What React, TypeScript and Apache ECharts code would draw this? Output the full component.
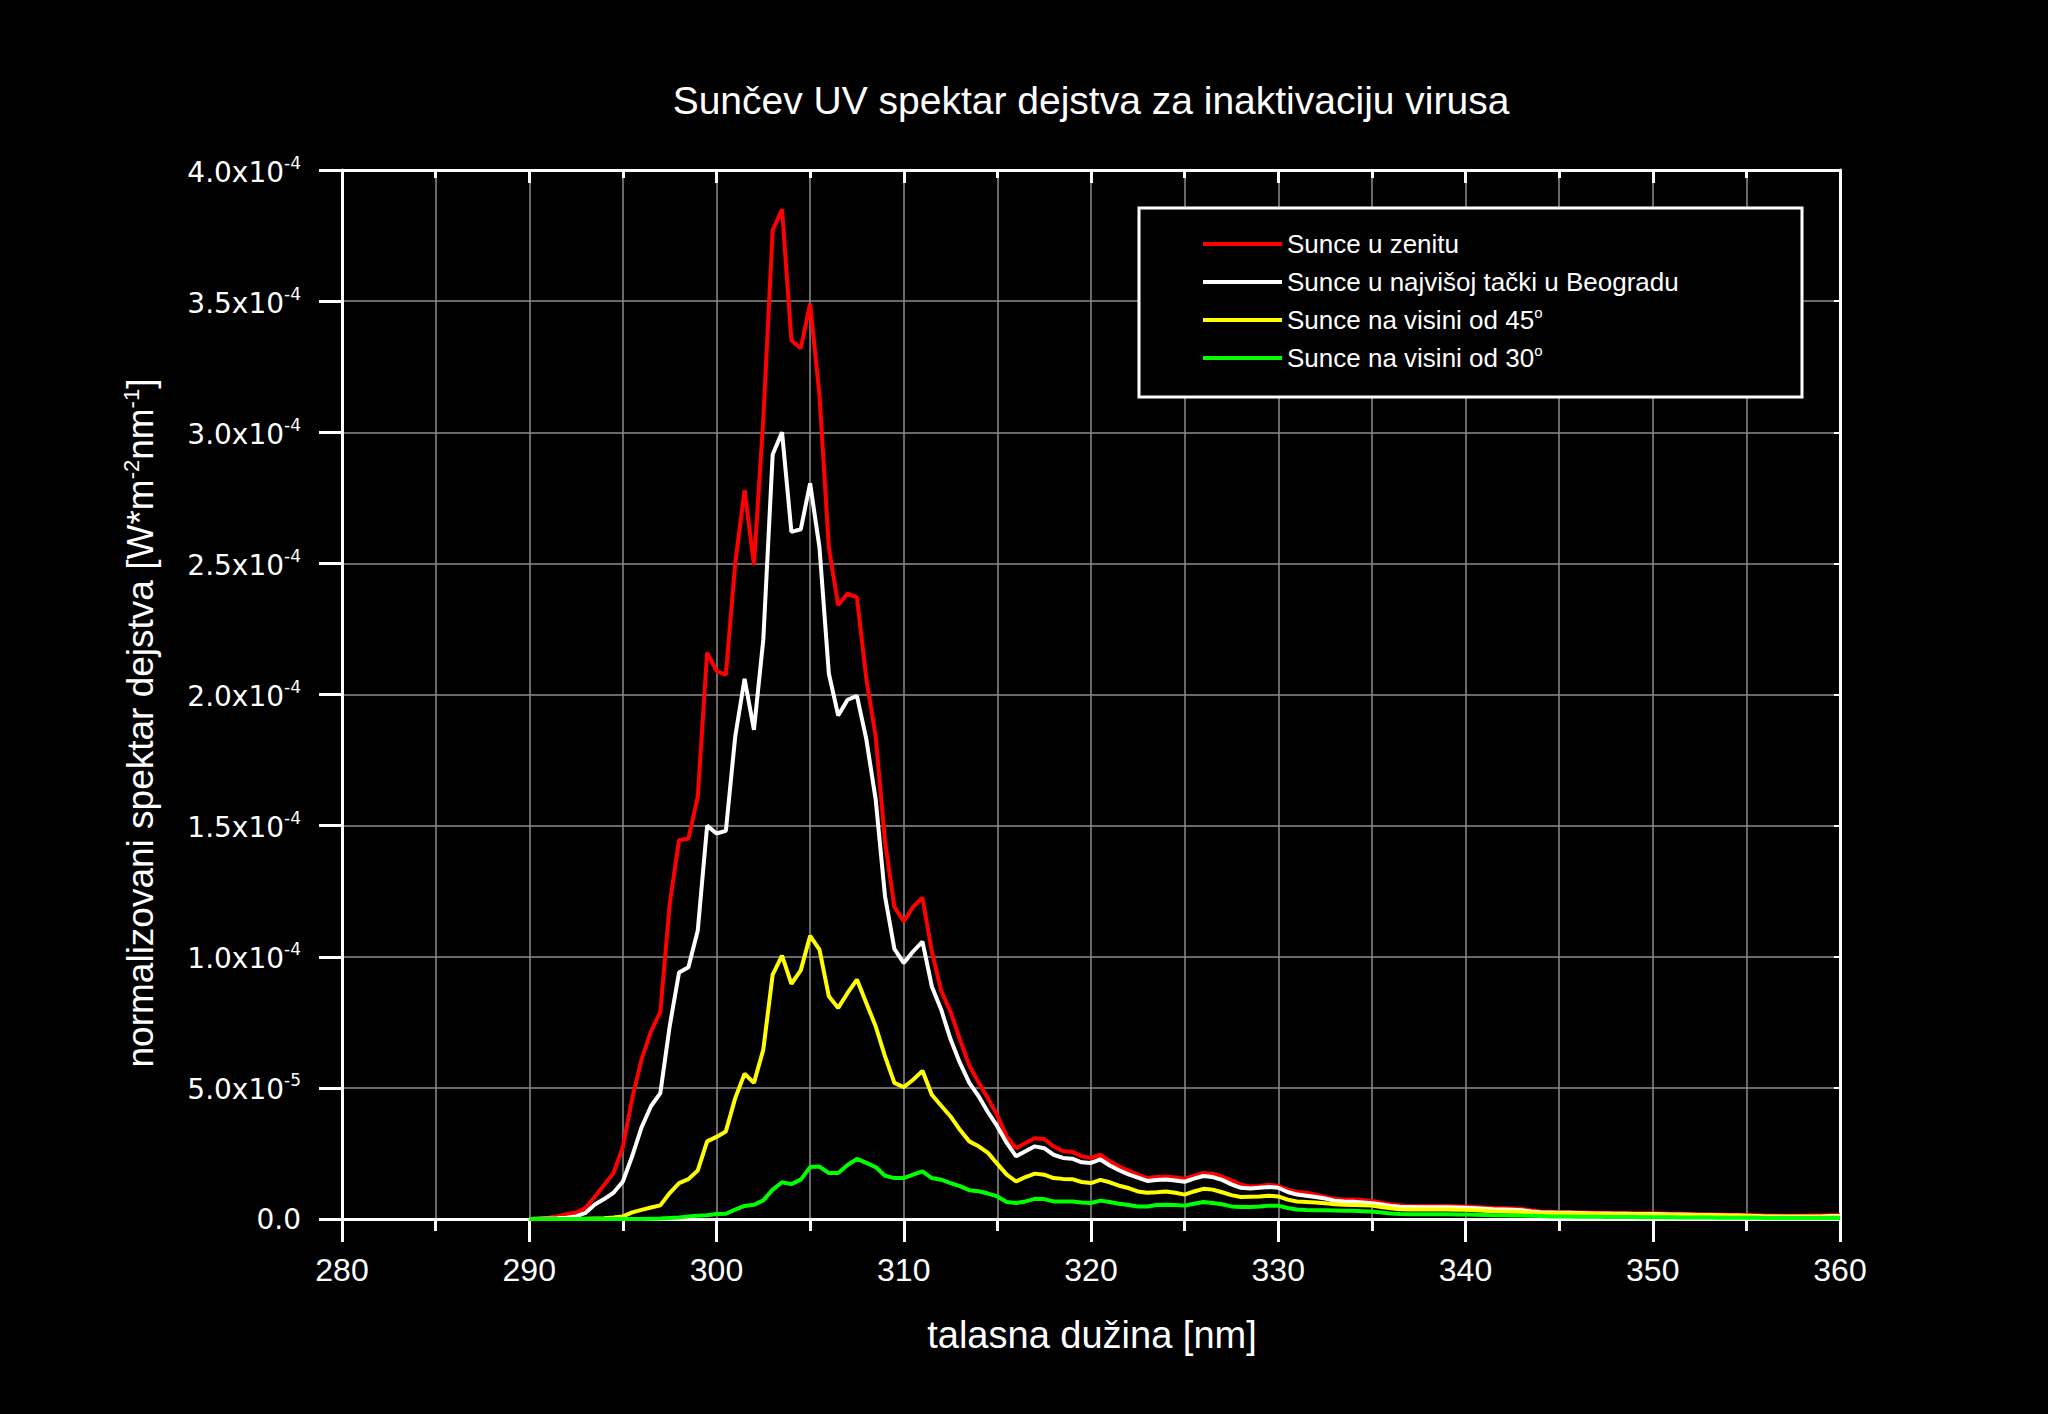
import React, { useEffect, useRef } from "react";
import * as echarts from "echarts";

const FONT = '"Liberation Sans", Arial, Helvetica, sans-serif';

// wavelength grid: first sample and step (nm)
const START_NM = 290;
const STEP_NM = 0.5;

// values in units of 1e-5 W m^-2 nm^-1, one row = 5 nm (290 ... 360)
const sunceZenit = [
  0, 0.02, 0.05, 0.1, 0.18, 0.25, 0.42, 0.85, 1.3, 1.75,
  2.75, 4.6, 6.1, 7.15, 7.9, 12.0, 14.45, 14.5, 16.1, 21.6,
  20.9, 20.75, 25.0, 27.8, 24.95, 30.5, 37.7, 38.5, 33.5, 33.2,
  34.9, 31.4, 25.6, 23.4, 23.85, 23.7, 20.6, 18.4, 14.4, 11.9,
  11.35, 11.9, 12.25, 10.2, 8.7, 7.9, 6.85, 5.85, 5.2, 4.6,
  3.95, 3.15, 2.7, 2.9, 3.08, 3.05, 2.77, 2.58, 2.56, 2.39,
  2.33, 2.45, 2.2, 2.0, 1.85, 1.69, 1.56, 1.6, 1.62, 1.58,
  1.54, 1.65, 1.75, 1.73, 1.62, 1.47, 1.31, 1.24, 1.26, 1.31,
  1.26, 1.12, 1.03, 1.0, 0.93, 0.84, 0.77, 0.74, 0.74, 0.72,
  0.69, 0.62, 0.56, 0.52, 0.5, 0.5, 0.5, 0.5, 0.5, 0.49,
  0.48, 0.46, 0.44, 0.42, 0.41, 0.4, 0.38, 0.33, 0.29, 0.28,
  0.27, 0.27, 0.26, 0.25, 0.24, 0.24, 0.23, 0.23, 0.22, 0.22,
  0.22, 0.21, 0.2, 0.2, 0.19, 0.18, 0.18, 0.17, 0.16, 0.16,
  0.15, 0.14, 0.13, 0.12, 0.12, 0.12, 0.12, 0.13, 0.13, 0.14,
  0.15,
];

const sunceBeograd = [
  0, 0.01, 0.02, 0.03, 0.05, 0.1, 0.23, 0.55, 0.76, 1.0,
  1.43, 2.4, 3.5, 4.3, 4.8, 7.35, 9.4, 9.6, 11.0, 15.0,
  14.7, 14.8, 18.4, 20.6, 18.65, 22.1, 29.15, 30.0, 26.2, 26.3,
  28.05, 25.6, 20.8, 19.2, 19.8, 19.95, 18.3, 16.0, 12.3, 10.3,
  9.76, 10.2, 10.58, 8.87, 7.98, 6.85, 5.95, 5.19, 4.68, 4.07,
  3.53, 2.9, 2.39, 2.58, 2.77, 2.7, 2.45, 2.33, 2.3, 2.16,
  2.14, 2.27, 2.04, 1.86, 1.7, 1.58, 1.45, 1.49, 1.51, 1.47,
  1.42, 1.54, 1.64, 1.6, 1.49, 1.32, 1.19, 1.16, 1.19, 1.22,
  1.19, 1.03, 0.93, 0.89, 0.84, 0.78, 0.7, 0.67, 0.66, 0.63,
  0.6, 0.55, 0.5, 0.47, 0.46, 0.45, 0.45, 0.45, 0.45, 0.44,
  0.43, 0.41, 0.39, 0.37, 0.36, 0.35, 0.33, 0.29, 0.26, 0.25,
  0.24, 0.24, 0.23, 0.22, 0.21, 0.21, 0.2, 0.2, 0.19, 0.19,
  0.19, 0.18, 0.17, 0.17, 0.16, 0.15, 0.15, 0.14, 0.13, 0.13,
  0.12, 0.11, 0.1, 0.1, 0.1, 0.1, 0.1, 0.1, 0.1, 0.11,
  0.11,
];

const sunce45 = [
  0, 0, 0, 0, 0, 0, 0.01, 0.02, 0.03, 0.06,
  0.1, 0.25, 0.35, 0.44, 0.52, 0.99, 1.37, 1.52, 1.85, 2.96,
  3.13, 3.34, 4.61, 5.54, 5.19, 6.46, 9.32, 10.04, 8.97, 9.48,
  10.8, 10.27, 8.49, 8.05, 8.62, 9.13, 8.24, 7.35, 6.2, 5.19,
  5.03, 5.31, 5.65, 4.74, 4.32, 3.91, 3.4, 2.96, 2.77, 2.52,
  2.1, 1.69, 1.43, 1.6, 1.73, 1.69, 1.56, 1.53, 1.52, 1.41,
  1.37, 1.49, 1.4, 1.27, 1.18, 1.05, 1.0, 1.02, 1.05, 1.0,
  0.93, 1.05, 1.15, 1.12, 1.02, 0.91, 0.84, 0.85, 0.86, 0.89,
  0.86, 0.74, 0.67, 0.65, 0.63, 0.6, 0.56, 0.54, 0.53, 0.52,
  0.51, 0.46, 0.41, 0.37, 0.36, 0.36, 0.36, 0.36, 0.36, 0.35,
  0.35, 0.33, 0.31, 0.3, 0.29, 0.28, 0.27, 0.24, 0.22, 0.21,
  0.21, 0.2, 0.2, 0.19, 0.19, 0.18, 0.18, 0.17, 0.17, 0.17,
  0.16, 0.16, 0.15, 0.15, 0.14, 0.14, 0.13, 0.13, 0.12, 0.12,
  0.11, 0.1, 0.09, 0.09, 0.08, 0.08, 0.08, 0.08, 0.08, 0.08,
  0.08,
];

const sunce30 = [
  0, 0, 0, 0, 0, 0, 0, 0, 0, 0,
  0, 0, 0, 0.01, 0.02, 0.04, 0.06, 0.1, 0.12, 0.14,
  0.19, 0.2, 0.36, 0.5, 0.54, 0.71, 1.12, 1.4, 1.33, 1.5,
  1.98, 2.0, 1.75, 1.75, 2.06, 2.29, 2.14, 1.98, 1.65, 1.56,
  1.56, 1.69, 1.82, 1.56, 1.5, 1.37, 1.25, 1.1, 1.06, 0.97,
  0.86, 0.65, 0.61, 0.67, 0.77, 0.76, 0.67, 0.67, 0.67, 0.63,
  0.61, 0.7, 0.65, 0.58, 0.53, 0.48, 0.48, 0.53, 0.54, 0.53,
  0.51, 0.58, 0.65, 0.61, 0.56, 0.48, 0.46, 0.46, 0.48, 0.51,
  0.51, 0.42, 0.36, 0.34, 0.33, 0.33, 0.32, 0.31, 0.31, 0.3,
  0.29, 0.25, 0.21, 0.19, 0.18, 0.18, 0.18, 0.18, 0.18, 0.17,
  0.17, 0.16, 0.15, 0.14, 0.14, 0.13, 0.13, 0.12, 0.11, 0.1,
  0.1, 0.1, 0.09, 0.09, 0.09, 0.08, 0.08, 0.08, 0.08, 0.07,
  0.07, 0.07, 0.07, 0.06, 0.06, 0.06, 0.06, 0.05, 0.05, 0.05,
  0.05, 0.05, 0.04, 0.04, 0.04, 0.04, 0.04, 0.04, 0.04, 0.04,
  0.04,
];

const seriesNames = [
  "Sunce u zenitu",
  "Sunce u najvišoj tački u Beogradu",
  "Sunce na visini od 45°",
  "Sunce na visini od 30°",
];
const seriesData = [sunceZenit, sunceBeograd, sunce45, sunce30];
const seriesColors = ["#ff0000", "#ffffff", "#ffff00", "#00ff00"];

const X_MIN = 280;
const X_MAX = 360;
const X_STEP = 10;
const Y_MIN = 0;
const Y_MAX = 40;
const Y_STEP = 5;

const titleText = "Sunčev UV spektar dejstva za inaktivaciju virusa";
const xTitleText = "talasna dužina [nm]";
const yTitleRich = "normalizovani spektar dejstva [W*m{s|-2}nm{s|-1}]";

const toPairs = (arr: number[]) => arr.map((v, i) => [START_NM + i * STEP_NM, v]);

const yLabel = (v: number) => {
  if (v === 0) return "{b|0.0}";
  if (v >= 10) return `{b|${(v / 10).toFixed(1)}x10}{s|-4}`;
  return `{b|${v.toFixed(1)}x10}{s|-5}`;
};

const GRID_COLOR = "#8c8c8c";

export default function App() {
  const ref = useRef<HTMLDivElement>(null);
  useEffect(() => {
    const chart = echarts.init(ref.current!, undefined, { renderer: "svg" });
    const option: any = {
      animation: false,
      backgroundColor: "#000000",
      grid: { left: 342, right: 208, top: 170, bottom: 195, containLabel: false },
      xAxis: [
        {
          type: "value",
          position: "bottom",
          min: X_MIN,
          max: X_MAX,
          interval: X_STEP,
          axisLine: { show: true, onZero: false, lineStyle: { color: "#ffffff", width: 3 } },
          axisTick: { show: true, inside: false, length: 23, lineStyle: { color: "#ffffff", width: 3 } },
          minorTick: { show: true, splitNumber: 2, length: 12, lineStyle: { color: "#ffffff", width: 3 } },
          splitLine: { show: true, lineStyle: { color: GRID_COLOR, width: 1.5 } },
          minorSplitLine: { show: true, lineStyle: { color: GRID_COLOR, width: 1.5 } },
          axisLabel: { color: "#ffffff", fontFamily: FONT, fontSize: 32, margin: 35 },
        },
        {
          type: "value",
          position: "top",
          min: X_MIN,
          max: X_MAX,
          interval: X_STEP,
          axisLine: { show: true, onZero: false, lineStyle: { color: "#ffffff", width: 3 } },
          axisTick: { show: true, inside: true, length: 13, lineStyle: { color: "#ffffff", width: 3 } },
          minorTick: { show: true, splitNumber: 2, length: 8, lineStyle: { color: "#ffffff", width: 3 } },
          splitLine: { show: false },
          axisLabel: { show: false },
        },
      ],
      yAxis: [
        {
          type: "value",
          position: "left",
          min: Y_MIN,
          max: Y_MAX,
          interval: Y_STEP,
          axisLine: { show: true, onZero: false, lineStyle: { color: "#ffffff", width: 3 } },
          axisTick: { show: true, inside: false, length: 23, lineStyle: { color: "#ffffff", width: 3 } },
          splitLine: { show: true, lineStyle: { color: GRID_COLOR, width: 1.5 } },
          axisLabel: {
            margin: 41,
            formatter: yLabel,
            rich: {
              b: { color: "#ffffff", fontFamily: '"DejaVu Sans", sans-serif', fontSize: 28, verticalAlign: "bottom" },
              s: { color: "#ffffff", fontFamily: '"DejaVu Sans", sans-serif', fontSize: 17, verticalAlign: "bottom", padding: [0, 0, 15, 0] },
            },
          },
        },
        {
          type: "value",
          position: "right",
          min: Y_MIN,
          max: Y_MAX,
          interval: Y_STEP,
          axisLine: { show: true, onZero: false, lineStyle: { color: "#ffffff", width: 3 } },
          axisTick: { show: true, inside: true, length: 6, lineStyle: { color: "#ffffff", width: 2 } },
          splitLine: { show: false },
          axisLabel: { show: false },
        },
      ],
      legend: {
        show: true,
        data: seriesNames,
        orient: "vertical",
        left: 1203,
        top: 229,
        padding: 0,
        itemGap: 8,
        itemWidth: 79,
        itemHeight: 4,
        icon: "rect",
        selectedMode: false,
        z: 10,
        formatter: (name: string) => name.replace("°", "{s|o}"),
        textStyle: {
          color: "#ffffff",
          fontFamily: FONT,
          fontSize: 26,
          lineHeight: 30,
          rich: {
            s: { color: "#ffffff", fontFamily: FONT, fontSize: 15, verticalAlign: "bottom", padding: [0, 0, 15, 0] },
          },
        },
      },
      graphic: [
        {
          type: "rect",
          z: 5,
          shape: { x: 1139, y: 208, width: 663, height: 189 },
          style: { fill: "#000000", stroke: "#ffffff", lineWidth: 3 },
        },
        {
          type: "text",
          x: 1091,
          y: 100,
          style: {
            text: titleText,
            fill: "#ffffff",
            fontFamily: FONT,
            fontSize: 39,
            align: "center",
            verticalAlign: "middle",
          },
        },
        {
          type: "text",
          x: 1092,
          y: 1335,
          style: {
            text: xTitleText,
            fill: "#ffffff",
            fontFamily: FONT,
            fontSize: 38,
            align: "center",
            verticalAlign: "middle",
          },
        },
        {
          type: "text",
          x: 140,
          y: 723,
          rotation: Math.PI / 2,
          style: {
            text: yTitleRich,
            fill: "#ffffff",
            fontFamily: FONT,
            fontSize: 37,
            align: "center",
            verticalAlign: "middle",
            rich: {
              s: { fill: "#ffffff", fontFamily: FONT, fontSize: 22, verticalAlign: "bottom", padding: [0, 0, 17, 0] },
            },
          },
        },
      ],
      series: seriesData.map((d, i) => ({
        name: seriesNames[i],
        type: "line",
        xAxisIndex: 0,
        yAxisIndex: 0,
        data: toPairs(d),
        showSymbol: false,
        symbol: "none",
        smooth: false,
        z: 2 + i,
        itemStyle: { color: seriesColors[i] },
        lineStyle: { color: seriesColors[i], width: 4 },
      })),
    };
    chart.setOption(option);
    return () => chart.dispose();
  }, []);
  return (
    <div
      ref={ref}
      style={{ position: "fixed", left: 0, top: 0, width: 2048, height: 1414, background: "#000000" }}
    />
  );
}
